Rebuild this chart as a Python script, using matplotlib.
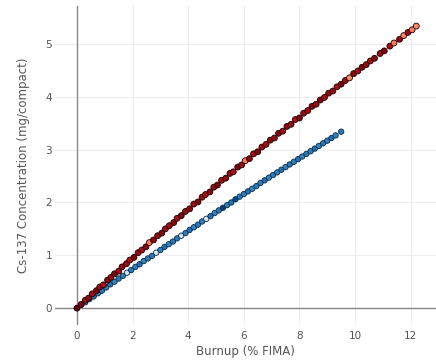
import matplotlib
matplotlib.use("Agg")
import matplotlib.pyplot as plt
from matplotlib import cm

# Cs-137 vs burnup, two compact groups
red_burnup = [0, 0.15, 0.3, 0.42, 0.55, 0.7, 0.82, 0.95, 1.1, 1.22, 1.35, 1.5, 1.62, 1.78, 1.9,
              2.05, 2.2, 2.33, 2.48, 2.6, 2.75, 2.9, 3.05, 3.18, 3.32, 3.48, 3.6, 3.75, 3.9,
              4.05, 4.2, 4.35, 4.5, 4.62, 4.78, 4.92, 5.05, 5.2, 5.35, 5.5, 5.62, 5.78, 5.92,
              6.05, 6.2, 6.35, 6.5, 6.65, 6.8, 6.95, 7.1, 7.25, 7.4, 7.55, 7.7, 7.85, 8.0,
              8.15, 8.3, 8.45, 8.6, 8.75, 8.9, 9.05, 9.2, 9.35, 9.5, 9.65, 9.8, 9.95, 10.1,
              10.25, 10.4, 10.55, 10.7, 10.9, 11.05, 11.25, 11.4, 11.6, 11.75, 11.9, 12.05, 12.2]
red_cs137 = [0, 0.07, 0.15, 0.19, 0.27, 0.33, 0.40, 0.44, 0.53, 0.58, 0.65, 0.70, 0.78, 0.84, 0.91,
             0.96, 1.05, 1.10, 1.16, 1.24, 1.29, 1.37, 1.42, 1.50, 1.56, 1.62, 1.70, 1.75, 1.83,
             1.88, 1.97, 2.01, 2.10, 2.15, 2.20, 2.29, 2.33, 2.42, 2.46, 2.55, 2.58, 2.67, 2.71,
             2.79, 2.83, 2.92, 2.96, 3.05, 3.10, 3.18, 3.22, 3.31, 3.35, 3.44, 3.48, 3.57, 3.60,
             3.69, 3.74, 3.82, 3.86, 3.94, 3.99, 4.07, 4.11, 4.19, 4.24, 4.31, 4.36, 4.44, 4.49,
             4.56, 4.61, 4.68, 4.73, 4.82, 4.87, 4.96, 5.02, 5.09, 5.16, 5.22, 5.27, 5.34]
red_level = [1.0, 0.95, 0.9, 0.92, 0.88, 0.95, 0.9, 0.85, 0.93, 0.9, 0.95, 0.88, 0.92, 0.9, 0.86,
             0.95, 0.9, 0.88, 0.93, 0.45, 0.92, 0.9, 0.95, 0.88, 0.9, 0.93, 0.87, 0.95, 0.9,
             0.92, 0.88, 0.95, 0.9, 0.85, 0.93, 0.9, 0.95, 0.88, 0.92, 0.9, 0.86, 0.95, 0.9,
             0.45, 0.92, 0.88, 0.95, 0.9, 0.87, 0.93, 0.9, 0.95, 0.88, 0.92, 0.9, 0.86, 0.95,
             0.9, 0.88, 0.93, 0.9, 0.95, 0.88, 0.92, 0.9, 0.86, 0.95, 0.9, 0.4, 0.92, 0.88,
             0.95, 0.9, 0.87, 0.93, 0.9, 0.95, 0.88, 0.45, 0.92, 0.42, 0.9, 0.45, 0.4]

blue_burnup = [0, 0.15, 0.3, 0.45, 0.6, 0.75, 0.9, 1.05, 1.2, 1.35, 1.5, 1.65, 1.8, 1.95, 2.1,
               2.25, 2.4, 2.55, 2.7, 2.85, 3.0, 3.15, 3.3, 3.45, 3.6, 3.75, 3.9, 4.05, 4.2,
               4.35, 4.5, 4.65, 4.8, 4.95, 5.1, 5.25, 5.4, 5.55, 5.7, 5.85, 6.0, 6.15, 6.3,
               6.45, 6.6, 6.75, 6.9, 7.05, 7.2, 7.35, 7.5, 7.65, 7.8, 7.95, 8.1, 8.25, 8.4,
               8.55, 8.7, 8.85, 9.0, 9.15, 9.3, 9.5]
blue_cs137 = [0, 0.06, 0.11, 0.17, 0.22, 0.28, 0.33, 0.39, 0.45, 0.50, 0.56, 0.61, 0.67, 0.72, 0.78,
              0.83, 0.89, 0.94, 0.99, 1.05, 1.10, 1.16, 1.21, 1.26, 1.32, 1.37, 1.42, 1.48, 1.53,
              1.58, 1.64, 1.69, 1.74, 1.80, 1.85, 1.90, 1.95, 2.00, 2.06, 2.11, 2.16, 2.21, 2.26,
              2.31, 2.37, 2.42, 2.47, 2.52, 2.57, 2.62, 2.67, 2.72, 2.77, 2.82, 2.87, 2.92, 2.97,
              3.02, 3.07, 3.12, 3.17, 3.22, 3.27, 3.34]
blue_level = [0.75, 0.7, 0.72, 0.68, 0.75, 0.7, 0.72, 0.7, 0.75, 0.68, 0.72, 0.7, 0.2, 0.72, 0.7,
              0.75, 0.68, 0.7, 0.72, 0.15, 0.7, 0.75, 0.68, 0.72, 0.7, 0.2, 0.7, 0.75, 0.68,
              0.72, 0.7, 0.15, 0.75, 0.68, 0.72, 0.95, 0.7, 0.75, 0.9, 0.72, 0.7, 0.75, 0.68,
              0.72, 0.7, 0.75, 0.68, 0.72, 0.7, 0.75, 0.68, 0.72, 0.7, 0.75, 0.68, 0.72, 0.7,
              0.75, 0.68, 0.72, 0.7, 0.75, 0.68, 0.72]

x_ticks = [0, 2, 4, 6, 8, 10, 12]
y_ticks = [0, 1, 2, 3, 4, 5]

fig = plt.figure(figsize=(4.36, 3.6), dpi=100)
ax = fig.add_axes([55 / 436, 1 - 325 / 360, 381 / 436, 319 / 360])

ax.scatter(blue_burnup, blue_cs137, c=blue_level, cmap=cm.Blues, vmin=0, vmax=1,
           s=15, edgecolors='#0b2a45', linewidths=0.6, zorder=3)
ax.scatter(red_burnup, red_cs137, c=red_level, cmap=cm.Reds, vmin=0, vmax=1,
           s=18, edgecolors='#1a0000', linewidths=0.6, zorder=4)

ax.set_xlim(-0.79, 12.91)
ax.set_ylim(-0.32, 5.72)
ax.set_xticks(x_ticks)
ax.set_yticks(y_ticks)
ax.grid(True, color='#eeeeee', linewidth=0.8)
ax.set_axisbelow(True)
ax.axhline(0, color='#888888', linewidth=1, zorder=2)
ax.axvline(0, color='#888888', linewidth=1, zorder=2)
for s in ax.spines.values():
    s.set_visible(False)
ax.tick_params(length=0, labelsize=7.5, labelcolor='#555555')
ax.tick_params(axis='y', pad=2)
ax.tick_params(axis='x', pad=4)

ax.set_xlabel('Burnup (% FIMA)', fontsize=8.5, color='#555555', labelpad=3)
ax.set_ylabel('Cs-137 Concentration (mg/compact)', fontsize=8.5, color='#555555', labelpad=11)

fig.savefig('out.png', dpi=100)
